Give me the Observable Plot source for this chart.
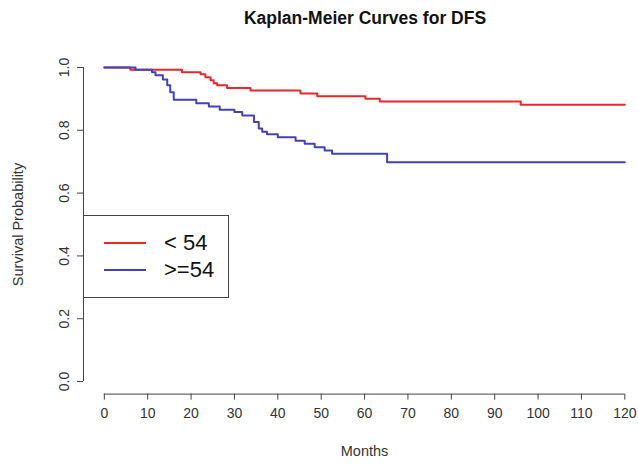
<!DOCTYPE html>
<html><head><meta charset="utf-8">
<script src="https://cdn.jsdelivr.net/npm/d3@7"></script>
<script src="https://cdn.jsdelivr.net/npm/@observablehq/plot@0.6"></script>
<style>
body{margin:0;background:#fff;font-family:"Liberation Sans",Arial,Helvetica,sans-serif;}
#wrap{position:relative;width:638px;height:469px;overflow:hidden;background:#fff}
#title{height:36px;line-height:36px;font-size:17.5px;font-weight:bold;color:#111;text-align:center;padding-left:92px;box-sizing:border-box;width:638px}
#chart svg{display:block}
#legend{position:absolute;left:83px;top:215px;width:146px;height:83px;box-sizing:border-box;border:1px solid #444;background:#fff}
.sw{position:absolute;left:20px;width:42px;height:2px}
.lt{position:absolute;left:80px;font-size:22px;color:#111;line-height:22px;white-space:pre}
</style></head>
<body>
<div id="wrap"><div id="title"></div><div id="chart"></div><div id="legend"></div></div>
<script>
const titleText = "Kaplan-Meier Curves for DFS";
const xLabel = "Months";
const yLabel = "Survival Probability";
const groups = ["< 54", ">=54"];
const colors = ["#e8282c", "#4343b5"];
const xTicks = [0, 10, 20, 30, 40, 50, 60, 70, 80, 90, 100, 110, 120];
const yTicks = [0, 0.2, 0.4, 0.6, 0.8, 1.0];

// group "< 54"
const redTime = [0, 6, 17.9, 22.2, 23.3, 24.5, 25.2, 26, 28.3, 33.7, 45.2, 49.1, 60.2, 63.5, 96, 120];
const redSurv = [1.0, 0.993, 0.985, 0.978, 0.969, 0.959, 0.950, 0.943, 0.935, 0.927, 0.917, 0.908, 0.900, 0.892, 0.881, 0.881];
// group ">=54"
const blueTime = [0, 7.2, 11, 11.8, 13.5, 14.5, 15.2, 16, 21.2, 24.1, 26.6, 30, 31.8, 34.5, 35.6, 36.4, 37.5, 40, 44.1, 46.2, 48.5, 50.8, 52.5, 65.2, 120];
const blueSurv = [1.0, 0.993, 0.985, 0.975, 0.962, 0.943, 0.921, 0.897, 0.886, 0.876, 0.865, 0.858, 0.847, 0.826, 0.806, 0.795, 0.787, 0.778, 0.767, 0.757, 0.746, 0.736, 0.725, 0.698, 0.698];

const rows = [
  ...redTime.map((t, i) => ({group: groups[0], time: t, surv: redSurv[i]})),
  ...blueTime.map((t, i) => ({group: groups[1], time: t, surv: blueSurv[i]}))
];

const xMin = xTicks[0], xMax = xTicks[xTicks.length - 1];
const yMin = yTicks[0], yMax = yTicks[yTicks.length - 1];
const xPad = (xMax - xMin) * 0.04, yPad = (yMax - yMin) * 0.04;

document.getElementById("title").textContent = titleText;

const chart = Plot.plot({
  width: 638,
  height: 433,
  marginLeft: 83,
  marginRight: 5,
  marginTop: 18.4,
  marginBottom: 75.4,
  style: {fontFamily: '"Liberation Sans", Arial, Helvetica, sans-serif', fontSize: "14px", color: "#333", background: "white"},
  x: {domain: [xMin - xPad, xMax + 2]},
  y: {domain: [yMin - yPad, yMax + yPad]},
  color: {domain: groups, range: colors},
  marks: [
    Plot.ruleY([yMin - yPad], {x1: xMin, x2: xMax, stroke: "#444"}),
    Plot.ruleX([xMin - xPad], {y1: yMin, y2: yMax, stroke: "#444"}),
    Plot.axisX(xTicks, {tickSize: 6, tickPadding: 7.5, fontSize: 14, stroke: "#444", label: null}),
    Plot.axisY(yTicks, {tickSize: 6, tickPadding: 9, tickRotate: -90, fontSize: 14, stroke: "#444", tickFormat: d => d.toFixed(1), label: null}),
    Plot.text([yLabel], {frameAnchor: "left", textAnchor: "middle", rotate: -90, dx: -65, fontSize: 14.5, fill: "#333"}),
    Plot.text([xLabel], {x: (xMin + xMax) / 2, frameAnchor: "bottom", dy: 61.4, fontSize: 14.5, fill: "#333"}),
    Plot.line(rows, {x: "time", y: "surv", z: "group", stroke: "group", curve: "step-after", strokeWidth: 2})
  ]
});
document.getElementById("chart").appendChild(chart);

const legend = document.getElementById("legend");
const swTops = [26, 53], txtTops = [16, 43];
groups.forEach((g, i) => {
  const sw = document.createElement("div");
  sw.className = "sw"; sw.style.top = swTops[i] + "px"; sw.style.background = colors[i];
  legend.appendChild(sw);
  const t = document.createElement("div");
  t.className = "lt"; t.style.top = txtTops[i] + "px"; t.textContent = g;
  legend.appendChild(t);
});
</script>
</body></html>
